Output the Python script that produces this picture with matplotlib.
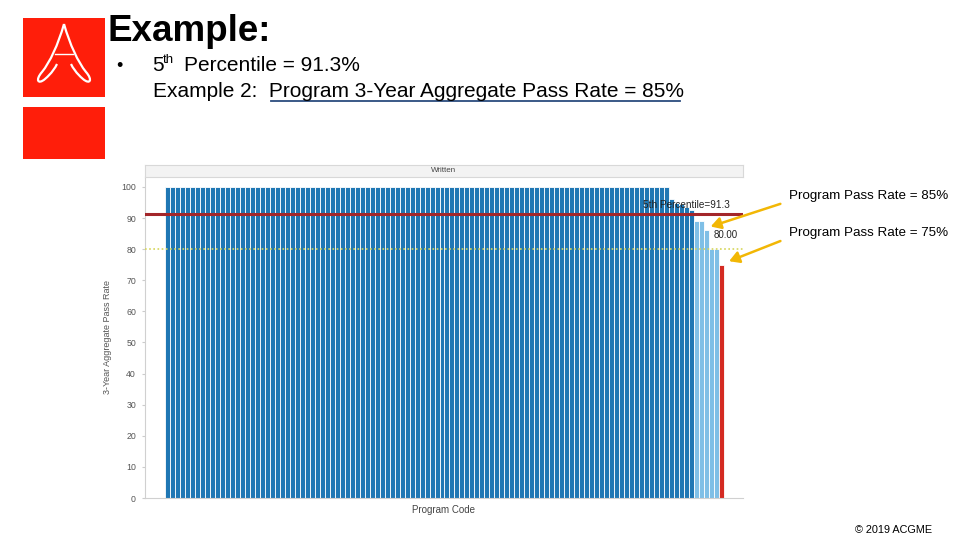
import numpy as np
import matplotlib.pyplot as plt
from matplotlib.patches import Rectangle, PathPatch
from matplotlib.path import Path

plt.rcParams['font.family'] = ['Liberation Sans', 'DejaVu Sans']

# pass rates per program, sorted high -> low
full_rates = [100] * 101
step_rates = [96, 95, 94.5, 93.5, 92.5]
below_rates = [89, 89, 86, 80, 80]
program_rate = [75]
percentile_5 = 91.3
threshold = 80
yticks = [0, 10, 20, 30, 40, 50, 60, 70, 80, 90, 100]

rates = full_rates + step_rates + below_rates + program_rate
colors = (['#1f77b4'] * len(full_rates) + ['#1f77b4'] * len(step_rates)
          + ['#7fbfe6'] * len(below_rates) + ['#d42a22'])
idx = np.arange(len(rates))

W, H = 960, 540
fig = plt.figure(figsize=(9.6, 5.4), dpi=100)
fig.patch.set_facecolor('white')

def fx(px):
    return px / W

def fy(py):
    return 1 - py / H

# chart
ax = fig.add_axes([fx(145), fy(498), fx(743) - fx(145), fy(177) - fy(498)])
ax.bar(idx, rates, width=1.0, color=colors, edgecolor='white', linewidth=0.6)
ax.axhline(percentile_5, color='#a3262a', lw=2.2, zorder=3)
ax.axhline(threshold, color='#d6d65a', lw=1.2, ls=(0, (1, 1.5)), zorder=3)
ax.set_xlim(-4.5, len(rates) + 3.3)
ax.set_ylim(0, 103.2)
ax.set_yticks(yticks)
ax.set_xticks([])
ax.tick_params(axis='y', labelsize=6.3, labelcolor='#555555', length=2.5,
               color='#cccccc', pad=4)
for s in ['top', 'right']:
    ax.spines[s].set_visible(False)
for s in ['left', 'bottom']:
    ax.spines[s].set_color('#d0d0d0')
    ax.spines[s].set_linewidth(0.8)
ax.set_ylabel('3-Year Aggregate Pass Rate', fontsize=6.5, color='#555555', labelpad=7)
ax.set_xlabel('Program Code', fontsize=7, color='#444444', labelpad=5)

ax.text(len(rates) + 0.7, percentile_5 + 1.3, '5th Percentile=91.3',
        fontsize=7.2, color='#222222', ha='right', va='bottom', zorder=4)
ax.text(len(rates) - 2.5, threshold + 2.8, '80.00',
        fontsize=7, color='#222222', ha='left', va='bottom', zorder=4)

# header strip
hx = fig.add_axes([fx(145), fy(177), fx(743) - fx(145), fy(165) - fy(177)])
hx.set_facecolor('#f3f3f3')
hx.set_xticks([])
hx.set_yticks([])
for s in hx.spines.values():
    s.set_color('#d8d8d8')
    s.set_linewidth(0.8)
hx.text(0.5, 0.5, 'Written', fontsize=5.8, color='#444444', ha='center', va='center',
        transform=hx.transAxes)

# arrows pointing at the bars
arrow_kw = dict(arrowstyle='-|>,head_length=0.6,head_width=0.35', color='#f2b705', lw=1.8)
i85 = len(full_rates) + len(step_rates) + 2
ax.annotate('', xy=(i85 + 0.3, below_rates[2] + 1), xycoords='data',
            xytext=(783, H - 203), textcoords='figure pixels', arrowprops=arrow_kw,
            annotation_clip=False)
ax.annotate('', xy=(idx[-1] + 1.0, program_rate[0] + 0.8), xycoords='data',
            xytext=(783, H - 240), textcoords='figure pixels', arrowprops=arrow_kw,
            annotation_clip=False)

fig.text(fx(789), fy(196), 'Program Pass Rate = 85%', fontsize=9.6, va='center', ha='left')
fig.text(fx(789), fy(233), 'Program Pass Rate = 75%', fontsize=9.6, va='center', ha='left')

# slide text
fig.text(fx(107), fy(41), 'Example:', fontsize=26.5, fontweight='bold', va='baseline')
fig.text(fx(116), fy(71), '•', fontsize=13, va='baseline')
fig.text(fx(152), fy(71), '5', fontsize=15, va='baseline')
fig.text(fx(163), fy(63), 'th', fontsize=9.5, va='baseline')
fig.text(fx(184), fy(71), 'Percentile = 91.3%', fontsize=15, va='baseline')
fig.text(fx(153), fy(97), 'Example 2:  Program 3-Year Aggregate Pass Rate = 85%',
         fontsize=15, va='baseline')
fig.add_artist(plt.Line2D([fx(271), fx(680)], [fy(101), fy(101)], color='#2b4c7e', lw=1.3))
fig.text(fx(932), fy(530), '© 2019 ACGME', fontsize=7.8, ha='right', va='center')

# logo
lx = fig.add_axes([0, 0, 1, 1], zorder=-1)
lx.set_xlim(0, W)
lx.set_ylim(H, 0)
lx.axis('off')
lx.add_patch(Rectangle((23, 18), 82, 79, color='#ff1e0a', lw=0))
lx.add_patch(Rectangle((23, 107), 82, 52, color='#ff1e0a', lw=0))
left_leg = Path([(64, 24), (58, 45), (50, 62), (42, 72), (35, 80), (38, 85), (45, 79),
                 (52, 73), (55, 68), (57, 64)],
                [Path.MOVETO] + [Path.CURVE4] * 9)
right_leg = Path([(64, 24), (70, 45), (78, 62), (86, 72), (93, 80), (90, 85), (83, 79),
                  (76, 73), (73, 68), (71, 64)],
                 [Path.MOVETO] + [Path.CURVE4] * 9)
for p in (left_leg, right_leg):
    lx.add_patch(PathPatch(p, fill=False, edgecolor='white', lw=1.6))
lx.plot([55, 73], [54, 54], color='white', lw=1.0)

fig.savefig('out.png', dpi=100)
